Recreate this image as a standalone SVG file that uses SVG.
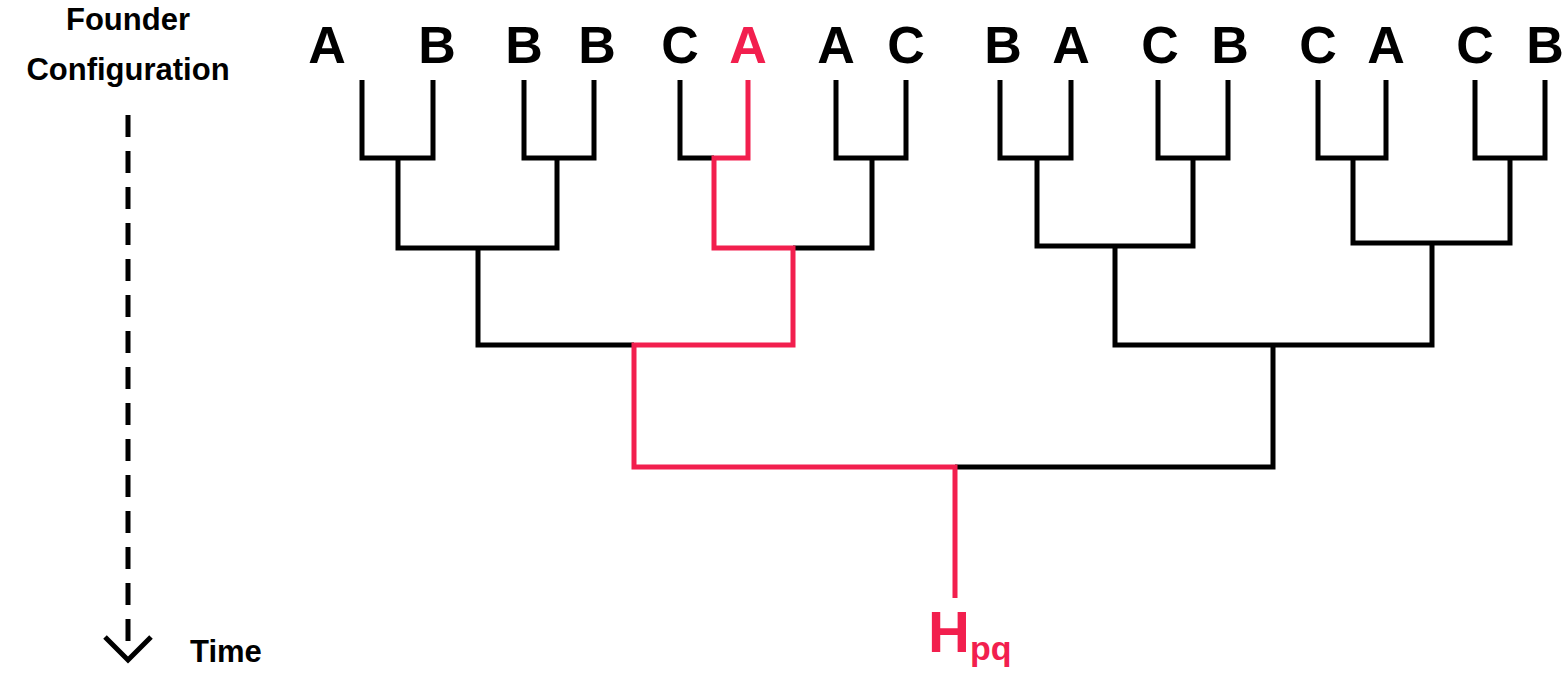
<svg xmlns="http://www.w3.org/2000/svg" width="1567" height="677" viewBox="0 0 1567 677">
<style>
.lf{font-family:"Liberation Sans",Arial,sans-serif;font-weight:bold;font-size:52px;text-anchor:middle}
.lb{font-family:"Liberation Sans",Arial,sans-serif;font-weight:bold;font-size:31px}
.k{fill:none;stroke:#000;stroke-width:5}
.r{fill:none;stroke:#f21f4e;stroke-width:5}
</style>
<rect width="1567" height="677" fill="#fff"/>
<g id="axis">
<text class="lb" x="128" y="30" text-anchor="middle">Founder</text>
<text class="lb" x="128" y="80" text-anchor="middle">Configuration</text>
<line x1="128" y1="115" x2="128" y2="645" stroke="#000" stroke-width="5" stroke-dasharray="22,14"/>
<polyline points="105,637 128,660 151,637" class="k"/>
<text class="lb" x="190" y="662">Time</text>
</g>
<g id="leaves">
<text class="lf" x="327" y="63">A</text><text class="lf" x="437" y="63">B</text>
<text class="lf" x="524" y="63">B</text><text class="lf" x="597" y="63">B</text>
<text class="lf" x="680" y="63">C</text><text class="lf" x="748" y="63" fill="#f21f4e">A</text>
<text class="lf" x="836" y="63">A</text><text class="lf" x="906" y="63">C</text>
<text class="lf" x="1003" y="63">B</text><text class="lf" x="1071" y="63">A</text>
<text class="lf" x="1160" y="63">C</text><text class="lf" x="1230" y="63">B</text>
<text class="lf" x="1318" y="63">C</text><text class="lf" x="1386" y="63">A</text>
<text class="lf" x="1475" y="63">C</text><text class="lf" x="1545" y="63">B</text>
</g>
<g id="connectors">
<polyline class="k" points="362,80 362,158 433,158 433,80"/>
<polyline class="k" points="524,80 524,158 594,158 594,80"/>
<polyline class="k" points="680,80 680,158 714,158"/>
<polyline class="k" points="836,80 836,158 906,158 906,80"/>
<polyline class="k" points="1000,80 1000,158 1071,158 1071,80"/>
<polyline class="k" points="1158,80 1158,158 1228,158 1228,80"/>
<polyline class="k" points="1318,80 1318,158 1386,158 1386,80"/>
<polyline class="k" points="1475,80 1475,158 1545,158 1545,80"/>
<polyline class="k" points="398,158 398,248 557,248 557,158"/>
<polyline class="k" points="793,248 872,248 872,158"/>
<polyline class="k" points="1037,158 1037,246 1193,246 1193,158"/>
<polyline class="k" points="1353,158 1353,243 1510,243 1510,158"/>
<polyline class="k" points="478,248 478,345 634,345"/>
<polyline class="k" points="1115,246 1115,345 1432,345 1432,243"/>
<polyline class="k" points="955,467 1273,467 1273,345"/>
<polyline class="r" points="748,80 748,158 714,158 714,248 793,248 793,345 634,345 634,467 955,467 955,598"/>
</g>
<g id="root">
<text x="928" y="652" font-family="Liberation Sans,Arial,sans-serif" font-weight="bold" font-size="58" fill="#f21f4e">H<tspan font-size="34" dy="8">pq</tspan></text>
</g>
</svg>
